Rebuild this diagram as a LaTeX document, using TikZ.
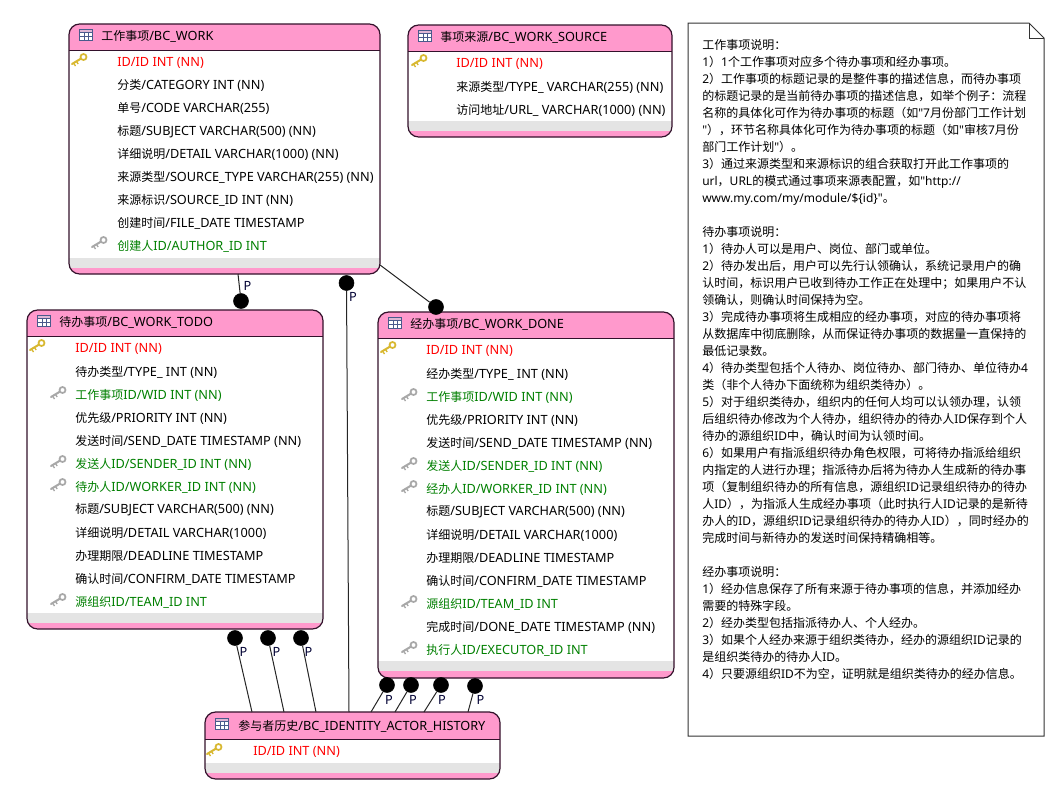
\documentclass[tikz,border=0pt]{standalone}
\usepackage{fontspec}
\setmainfont{Noto Sans CJK SC}
\newfontfamily\cjkf{Noto Sans CJK SC}
\newfontfamily\latf[Scale=1.06]{Noto Sans}
\newfontfamily\latn{Noto Sans}
\usetikzlibrary{calc}
% automatic font switch for CJK characters
\newXeTeXintercharclass\cjkclass
\newcount\cc
\cc="3000 \loop\ifnum\cc<"A000 \XeTeXcharclass\cc=\cjkclass \advance\cc by 1 \repeat
\cc="FF00 \loop\ifnum\cc<"FF60 \XeTeXcharclass\cc=\cjkclass \advance\cc by 1 \repeat
\XeTeXinterchartoks 0 \cjkclass={\cjkf}
\XeTeXinterchartoks 255 \cjkclass={\cjkf}
\XeTeXinterchartoks \cjkclass 0={\latf}
\XeTeXinterchartoks 255 0={\latf}
\XeTeXinterchartokenstate=1
\definecolor{tpink}{HTML}{FF99CC}
\definecolor{tedge}{HTML}{33112B}
\definecolor{tgrey}{HTML}{E4E4E4}
\definecolor{pkred}{HTML}{FF0000}
\definecolor{fkgreen}{HTML}{008000}
\definecolor{keygold}{HTML}{D8B830}
\definecolor{keygrey}{HTML}{A8A8A8}
\definecolor{iconblue}{HTML}{4A5A8C}
\tikzset{
  x=0.75pt,y=-0.75pt,
  txt/.style={font=\fontsize{9pt}{11pt}\selectfont\cjkf,anchor=west,inner sep=0pt,text=black},
  plain/.style={txt},
  pk/.style={txt,text=pkred,font=\fontsize{9pt}{11pt}\selectfont\latf},
  fk/.style={txt,text=fkgreen},
  title/.style={txt},
  ball/.style={circle,fill=black,draw=black,minimum size=11.25pt,inner sep=0pt},
  link/.style={draw=black!85,line width=0.75pt},
  plabel/.style={font=\fontsize{9pt}{11pt}\selectfont\latf,inner sep=0pt,text=black!80!blue},
  note/.style={draw=black!80,line width=0.75pt,fill=white},
  keyicon/.pic={
    \draw[line width=1.5pt,draw=#1,line cap=round] (-7,4) -- (3,-2);
    \draw[line width=1pt,draw=#1] (-5.5,3) -- (-3.5,6);
    \draw[line width=1pt,draw=#1] (-2.5,1.5) -- (-0.8,4);
    \draw[line width=1.3pt,draw=#1,fill=white] (4.5,-3) circle[radius=3];
  },
  tableicon/.pic={
    \fill[white] (-6.5,-5.5) rectangle (6.5,5.5);
    \fill[iconblue!30!tpink!60!white] (-6.5,-5.5) rectangle (6.5,-2.5);
    \draw[iconblue,line width=0.6pt] (-6.5,-5.5) rectangle (6.5,5.5);
    \draw[iconblue,line width=0.4pt] (-6.5,-2.5) -- (6.5,-2.5) (-6.5,1.5) -- (6.5,1.5) (-2,-2.5) -- (-2,5.5) (2.5,-2.5) -- (2.5,5.5);
  },
}
% #1 name, #2 left, #3 top, #4 right, #5 header bottom, #6 grey top, #7 bottom
\newcommand{\dbtable}[7]{%
  \fill[tpink,rounded corners=8pt] (#2,#3) rectangle (#4,#7);
  \fill[white] (#2,#5) rectangle (#4,#6);
  \fill[tgrey] (#2,#6) rectangle (#4,#6+10);
  \draw[tedge,line width=0.75pt] (#2,#5) -- (#4,#5);
  \path[draw=tedge,line width=0.9pt,rounded corners=8pt] (#2,#3) rectangle (#4,#7);
  \coordinate (#1) at (#2,#3);
}
\begin{document}
\begin{tikzpicture}
\useasboundingbox (0,0) rectangle (1061,796);
\fill[white] (0,0) rectangle (1061,796);

% tables
\dbtable{work}{69}{24}{380}{50}{258}{274}
\dbtable{source}{408}{25}{672}{51}{121}{137}
\dbtable{todo}{27}{310}{323}{336}{613}{629}
\dbtable{done}{378}{312}{674}{338}{661}{678}
\dbtable{hist}{205}{712}{500}{739}{763}{779}

% connectors
\node[ball] (b1) at (241,301) {};
\node[ball] (b2) at (346.5,283) {};
\node[ball] (b3) at (436,307) {};
\node[ball] (t1) at (235,638) {};
\node[ball] (t2) at (268,638) {};
\node[ball] (t3) at (301,638) {};
\node[ball] (d1) at (387,685) {};
\node[ball] (d2) at (411,685) {};
\node[ball] (d3) at (441,685) {};
\node[ball] (d4) at (475,686) {};
\coordinate (w1) at (238,274);
\coordinate (w3) at (380,265);
\coordinate (h0) at (349,712);
\coordinate (h1) at (252,712);
\coordinate (h2) at (284,712);
\coordinate (h3) at (316,712);
\coordinate (h4) at (371,712);
\coordinate (h5) at (395,712);
\coordinate (h6) at (424,712);
\coordinate (h7) at (468,712);
\draw[link] (w1) -- (b1);
\draw[link] (b2) -- (h0);
\draw[link] (w3) -- (b3);
\draw[link] (t1) -- (h1);
\draw[link] (t2) -- (h2);
\draw[link] (t3) -- (h3);
\draw[link] (d1) -- (h4);
\draw[link] (d2) -- (h5);
\draw[link] (d3) -- (h6);
\draw[link] (d4) -- (h7);
\node[plabel] (p1) at (247.5,286) {P};
\node[plabel] (p2) at (353,297) {P};
\node[plabel] (p4) at (243.5,652) {P};
\node[plabel] (p5) at (276.5,652) {P};
\node[plabel] (p6) at (308.5,652) {P};
\node[plabel] (p7) at (389,700) {P};
\node[plabel] (p8) at (413,700) {P};
\node[plabel] (p9) at (442,700) {P};
\node[plabel] (p10) at (480.5,700) {P};

% BC_WORK
\pic at (86,35) {tableicon};
\node[title] (wt) at (101,36.5) {工作事项/BC\_WORK};
\pic at (79,60) {keyicon=keygold};
\node[pk] (w01) at (117,62.5) {ID/ID INT (NN)};
\node[plain] (w02) at (117,85.5) {分类/CATEGORY INT (NN)};
\node[plain] (w03) at (117,108.5) {单号/CODE VARCHAR(255)};
\node[plain] (w04) at (117,131.5) {标题/SUBJECT VARCHAR(500) (NN)};
\node[plain] (w05) at (117,154.5) {详细说明/DETAIL VARCHAR(1000) (NN)};
\node[plain] (w06) at (117,177.5) {来源类型/SOURCE\_TYPE VARCHAR(255) (NN)};
\node[plain] (w07) at (117,200.5) {来源标识/SOURCE\_ID INT (NN)};
\node[plain] (w08) at (117,223.5) {创建时间/FILE\_DATE TIMESTAMP};
\pic at (99,243) {keyicon=keygrey};
\node[fk] (w09) at (117,246.5) {创建人ID/AUTHOR\_ID INT};

% BC_WORK_SOURCE
\pic at (425,36) {tableicon};
\node[title] (st) at (440,37.5) {事项来源/BC\_WORK\_SOURCE};
\pic at (419,61) {keyicon=keygold};
\node[pk] (s01) at (456,63.5) {ID/ID INT (NN)};
\node[plain] (s02) at (456,87) {来源类型/TYPE\_ VARCHAR(255) (NN)};
\node[plain] (s03) at (456,110) {访问地址/URL\_ VARCHAR(1000) (NN)};

% BC_WORK_TODO
\pic at (44,321) {tableicon};
\node[title] (tt) at (59,322.5) {待办事项/BC\_WORK\_TODO};
\pic at (37,346) {keyicon=keygold};
\node[pk] (t01) at (75,349) {ID/ID INT (NN)};
\node[plain] (t02) at (75,372) {待办类型/TYPE\_ INT (NN)};
\pic at (58,393) {keyicon=keygrey};
\node[fk] (t03) at (75,395) {工作事项ID/WID INT (NN)};
\node[plain] (t04) at (75,418) {优先级/PRIORITY INT (NN)};
\node[plain] (t05) at (75,441) {发送时间/SEND\_DATE TIMESTAMP (NN)};
\pic at (58,462) {keyicon=keygrey};
\node[fk] (t06) at (75,464) {发送人ID/SENDER\_ID INT (NN)};
\pic at (58,485) {keyicon=keygrey};
\node[fk] (t07) at (75,487) {待办人ID/WORKER\_ID INT (NN)};
\node[plain] (t08) at (75,510) {标题/SUBJECT VARCHAR(500) (NN)};
\node[plain] (t09) at (75,533) {详细说明/DETAIL VARCHAR(1000)};
\node[plain] (t10) at (75,556) {办理期限/DEADLINE TIMESTAMP};
\node[plain] (t11) at (75,579) {确认时间/CONFIRM\_DATE TIMESTAMP};
\pic at (58,600) {keyicon=keygrey};
\node[fk] (t12) at (75,602) {源组织ID/TEAM\_ID INT};

% BC_WORK_DONE
\pic at (395,323) {tableicon};
\node[title] (dt) at (410,324.5) {经办事项/BC\_WORK\_DONE};
\pic at (388,348) {keyicon=keygold};
\node[pk] (d01) at (426,351) {ID/ID INT (NN)};
\node[plain] (d02) at (426,374) {经办类型/TYPE\_ INT (NN)};
\pic at (409,395) {keyicon=keygrey};
\node[fk] (d03) at (426,397) {工作事项ID/WID INT (NN)};
\node[plain] (d04) at (426,420) {优先级/PRIORITY INT (NN)};
\node[plain] (d05) at (426,443) {发送时间/SEND\_DATE TIMESTAMP (NN)};
\pic at (409,464) {keyicon=keygrey};
\node[fk] (d06) at (426,466) {发送人ID/SENDER\_ID INT (NN)};
\pic at (409,487) {keyicon=keygrey};
\node[fk] (d07) at (426,489) {经办人ID/WORKER\_ID INT (NN)};
\node[plain] (d08) at (426,512) {标题/SUBJECT VARCHAR(500) (NN)};
\node[plain] (d09) at (426,535) {详细说明/DETAIL VARCHAR(1000)};
\node[plain] (d10) at (426,558) {办理期限/DEADLINE TIMESTAMP};
\node[plain] (d11) at (426,581) {确认时间/CONFIRM\_DATE TIMESTAMP};
\pic at (409,602) {keyicon=keygrey};
\node[fk] (d12) at (426,604) {源组织ID/TEAM\_ID INT};
\node[plain] (d13) at (426,627) {完成时间/DONE\_DATE TIMESTAMP (NN)};
\pic at (409,648) {keyicon=keygrey};
\node[fk] (d14) at (426,650) {执行人ID/EXECUTOR\_ID INT};

% BC_IDENTITY_ACTOR_HISTORY
\pic at (222,724) {tableicon};
\node[title] (ht) at (238,726) {参与者历史/BC\_IDENTITY\_ACTOR\_HISTORY};
\pic at (214,750) {keyicon=keygold};
\node[pk] (h01) at (253,752) {ID/ID INT (NN)};

% note
\path[note] (688,23) -- (1029,23) -- (1044,38) -- (1044,736) -- (688,736) -- cycle;
\draw[note,fill=none] (1029,23) -- (1029,38) -- (1044,38);
\node[anchor=north west,inner sep=0pt,align=left,text=black,
      font=\fontsize{9pt}{12.75pt}\selectfont\let\latf\latn\cjkf] (notetext) at (702,39) {%
\cjkf 工作事项说明：\\
\latf 1）1个工作事项对应多个待办事项和经办事项。\\
\latf 2）工作事项的标题记录的是整件事的描述信息，而待办事项\\
\cjkf 的标题记录的是当前待办事项的描述信息，如举个例子：流程\\
\cjkf 名称的具体化可作为待办事项的标题（如"7月份部门工作计划\\
\latf "），环节名称具体化可作为待办事项的标题（如"审核7月份\\
\cjkf 部门工作计划"）。\\
\latf 3）通过来源类型和来源标识的组合获取打开此工作事项的\\
\latf url，URL的模式通过事项来源表配置，如"http://\\
\latf www.my.com/my/module/\$\{id\}"。\\[12.75pt]
\cjkf 待办事项说明：\\
\latf 1）待办人可以是用户、岗位、部门或单位。\\
\latf 2）待办发出后，用户可以先行认领确认，系统记录用户的确\\
\cjkf 认时间，标识用户已收到待办工作正在处理中；如果用户不认\\
\cjkf 领确认，则确认时间保持为空。\\
\latf 3）完成待办事项将生成相应的经办事项，对应的待办事项将\\
\cjkf 从数据库中彻底删除，从而保证待办事项的数据量一直保持的\\
\cjkf 最低记录数。\\
\latf 4）待办类型包括个人待办、岗位待办、部门待办、单位待办4\\
\cjkf 类（非个人待办下面统称为组织类待办）。\\
\latf 5）对于组织类待办，组织内的任何人均可以认领办理，认领\\
\cjkf 后组织待办修改为个人待办，组织待办的待办人ID保存到个人\\
\cjkf 待办的源组织ID中，确认时间为认领时间。\\
\latf 6）如果用户有指派组织待办角色权限，可将待办指派给组织\\
\cjkf 内指定的人进行办理；指派待办后将为待办人生成新的待办事\\
\cjkf 项（复制组织待办的所有信息，源组织ID记录组织待办的待办\\
\cjkf 人ID），为指派人生成经办事项（此时执行人ID记录的是新待\\
\cjkf 办人的ID，源组织ID记录组织待办的待办人ID），同时经办的\\
\cjkf 完成时间与新待办的发送时间保持精确相等。\\[12.75pt]
\cjkf 经办事项说明：\\
\latf 1）经办信息保存了所有来源于待办事项的信息，并添加经办\\
\cjkf 需要的特殊字段。\\
\latf 2）经办类型包括指派待办人、个人经办。\\
\latf 3）如果个人经办来源于组织类待办，经办的源组织ID记录的\\
\cjkf 是组织类待办的待办人ID。\\
\latf 4）只要源组织ID不为空，证明就是组织类待办的经办信息。};
\end{tikzpicture}
\end{document}
